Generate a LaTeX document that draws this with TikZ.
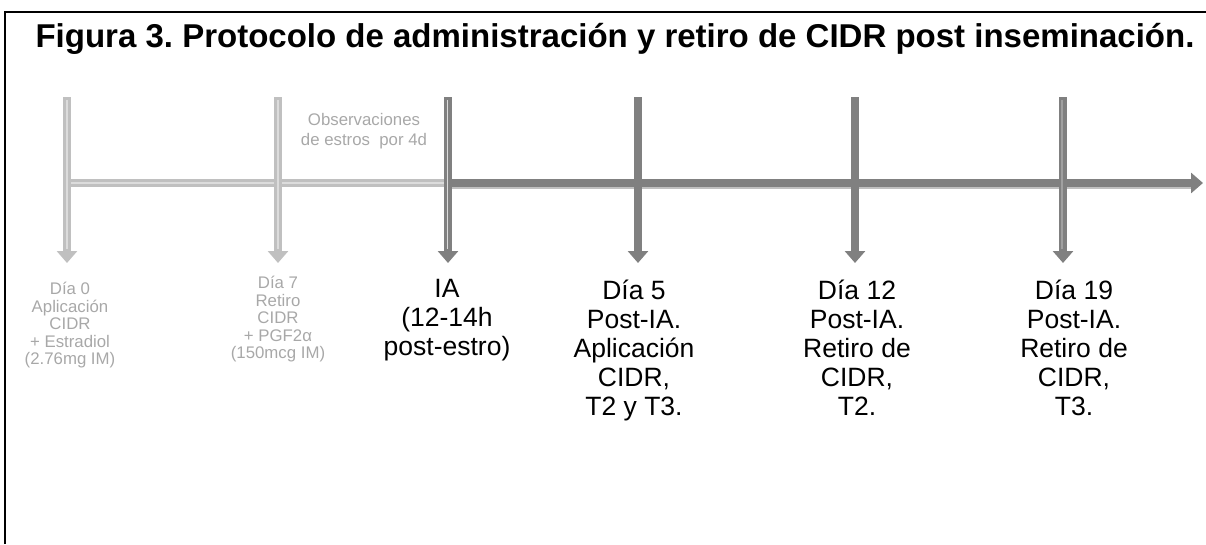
\documentclass[tikz,border=0pt]{standalone}
\usepackage{fontspec}
\setmainfont{Liberation Sans}
\usetikzlibrary{arrows.meta}
\definecolor{lg}{HTML}{C0C0C0}
\definecolor{lgin}{HTML}{DCDCDC}
\definecolor{dg}{HTML}{808080}
\definecolor{dgin}{HTML}{A0A0A0}
\definecolor{lgtext}{HTML}{A8A8A8}
\frenchspacing
\begin{document}
\begin{tikzpicture}[x=1pt,y=-1pt,
  tip/.style={-{Triangle[width=20pt,length=12pt]}},
  lightarrow/.style={line width=8pt,lg,tip},
  darkarrow/.style={line width=8pt,dg,tip},
  lightstripe/.style={line width=1.8pt,lgin},
  darkstripe/.style={line width=1.2pt,dgin},
  graylabel/.style={inner sep=0pt,anchor=north,align=center,text=lgtext,font=\fontsize{16.8}{17.5}\selectfont},
  blacklabel/.style={inner sep=0pt,anchor=north,align=center,text=black,font=\fontsize{26.5}{29}\selectfont},
  titlestyle/.style={inner sep=0pt,anchor=base,font=\bfseries\fontsize{33}{36}\selectfont}]
\useasboundingbox (0,0) rectangle (1206,544);
% frame (top and left only)
\draw[line width=2pt,black] (5,544) -- (5,12) -- (1206,12);
% title
\node[titlestyle] (title) at (615,47) {Figura 3. Protocolo de administración y retiro de CIDR post inseminación.};
% coordinates
\foreach \n/\x in {0/67,1/278,2/448,3/638,4/855,5/1063}{
  \coordinate (t\n) at (\x,97);
  \coordinate (b\n) at (\x,263);
}
\coordinate (h0) at (67,183);
\coordinate (hIA) at (448,183);
\coordinate (hend) at (1203,183);
% horizontal timeline
\draw[line width=8pt,lg] (h0) -- (hIA);
\draw[lightstripe] ([xshift=3pt]h0) -- (hIA);
\draw[line width=3pt,lg] ([yshift=-4.5pt]hIA) -- ([yshift=-4.5pt,xshift=-12pt]hend);
\draw[line width=8pt,dg,-{Triangle[width=20pt,length=12pt]}] (hIA) -- (hend);
% vertical arrows
\draw[lightarrow] (t0) -- (b0);
\draw[lightstripe] ([yshift=-3pt]t0) -- ([yshift=14pt]b0);
\draw[lightarrow] (t1) -- (b1);
\draw[lightstripe] ([yshift=-3pt]t1) -- ([yshift=14pt]b1);
\draw[darkarrow] (t2) -- (b2);
\draw[line width=1.4pt,lgin] ([yshift=-3pt,xshift=-0.5pt]t2) -- ([yshift=14pt,xshift=-0.5pt]b2);
\draw[darkarrow] (t3) -- (b3);
\draw[darkarrow] (t4) -- (b4);
\draw[darkarrow] (t5) -- (b5);
\draw[darkstripe] ([yshift=-3pt,xshift=-1pt]t5) -- ([yshift=14pt,xshift=-1pt]b5);
% labels
\node[graylabel,font=\fontsize{16.8}{20}\selectfont] (obs) at (364,113) {Observaciones\\de estros\ \ por 4d};
\node[graylabel] (l0) at (70,282) {Día 0\\Aplicación\\CIDR\\+ Estradiol\\(2.76mg IM)};
\node[graylabel] (l1) at (278,276) {Día 7\\Retiro\\CIDR\\+ PGF2α\\(150mcg IM)};
\node[blacklabel] (l2) at (447,279) {IA\\(12-14h\\post-estro)};
\node[blacklabel] (l3) at (634,280) {Día 5\\Post-IA.\\Aplicación\\CIDR,\\T2 y T3.};
\node[blacklabel] (l4) at (857,280) {Día 12\\Post-IA.\\Retiro de\\CIDR,\\T2.};
\node[blacklabel] (l5) at (1074,280) {Día 19\\Post-IA.\\Retiro de\\CIDR,\\T3.};
\end{tikzpicture}
\end{document}
